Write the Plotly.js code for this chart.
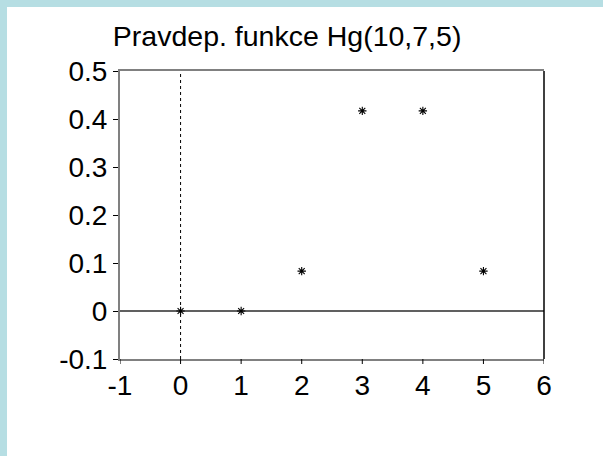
<!DOCTYPE html>
<html>
<head>
<meta charset="utf-8">
<script src="https://cdn.plot.ly/plotly-3.0.1.min.js"></script>
<style>
  html, body { margin: 0; padding: 0; background: #b6dee3; width: 603px; height: 456px; overflow: hidden; }
  #chart { position: absolute; left: 7px; top: 7px; width: 596px; height: 449px; background: #ffffff; }
</style>
</head>
<body>
<div id="chart"></div>
<script>
// Values
const xValues = [0, 1, 2, 3, 4, 5];
const probValues = [0, 0, 0.083, 0.417, 0.417, 0.083];
const xTicks = [-1, 0, 1, 2, 3, 4, 5, 6];
const yTicks = [-0.1, 0, 0.1, 0.2, 0.3, 0.4, 0.5];
const yTickText = ['-0.1', '0', '0.1', '0.2', '0.3', '0.4', '0.5'];
const chartTitle = 'Pravdep. funkce Hg(10,7,5)';

const FONT = 'Liberation Sans, Arial, Helvetica, sans-serif';

const trace = {
  x: xValues,
  y: probValues,
  type: 'scatter',
  mode: 'markers',
  marker: { symbol: 'asterisk-open', size: 7, color: '#000000', line: { color: '#000000', width: 1.1 } },
  hoverinfo: 'skip',
  cliponaxis: false
};

// x-axis tick marks drawn as pixel-length shapes below the axis, one per tick value
const xTickShapes = xTicks.map(v => ({
  type: 'line', xref: 'x', yref: 'paper', ysizemode: 'pixel', yanchor: 0,
  x0: v, x1: v, y0: 0, y1: -5,
  line: { color: '#000000', width: 1 }
}));

const layout = {
  width: 596,
  height: 449,
  paper_bgcolor: '#ffffff',
  plot_bgcolor: '#ffffff',
  showlegend: false,
  margin: { l: 113, r: 59, t: 64, b: 97, pad: 0 },
  font: { family: FONT, size: 28, color: '#000000' },
  title: {
    text: chartTitle,
    font: { family: FONT, size: 28.5, color: '#000000' },
    xref: 'container', x: 0.47, xanchor: 'center',
    yref: 'container', y: 0.935, yanchor: 'middle'
  },
  xaxis: {
    range: [-1, 6],
    tickvals: xTicks,
    ticktext: xTicks.map(String),
    showgrid: false,
    zeroline: false,
    showline: true, linecolor: '#808080', linewidth: 2, mirror: true,
    ticks: '',
    tickfont: { family: FONT, size: 28, color: '#000000' }
  },
  yaxis: {
    range: [-0.1, 0.5],
    tickvals: yTicks,
    ticktext: yTickText,
    showgrid: false,
    zeroline: true, zerolinecolor: '#606060', zerolinewidth: 1.5,
    showline: true, linecolor: '#808080', linewidth: 2,
    ticks: 'outside', ticklen: 5, tickwidth: 1, tickcolor: '#000000',
    tickfont: { family: FONT, size: 28, color: '#000000' }
  },
  shapes: [
    { type: 'line', xref: 'x', yref: 'y', x0: 0, x1: 0, y0: -0.1, y1: 0.5,
      line: { color: '#000000', width: 1, dash: 'dot' }, layer: 'below' },
    { type: 'line', xref: 'paper', yref: 'paper', x0: 1, x1: 1, y0: 0, y1: 1,
      line: { color: '#000000', width: 1.5 } }
  ].concat(xTickShapes)
};

Plotly.newPlot('chart', [trace], layout, { staticPlot: true, displayModeBar: false });
</script>
</body>
</html>
